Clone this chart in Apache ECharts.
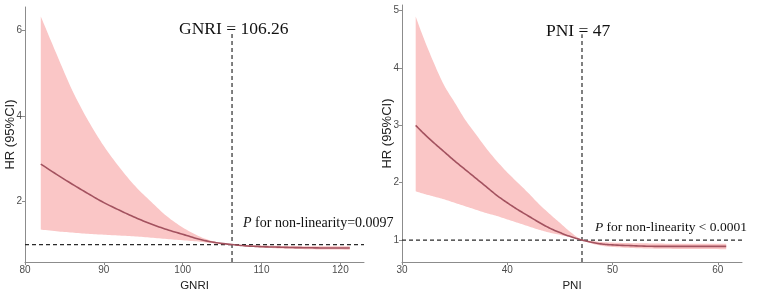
<!DOCTYPE html>
<html>
<head>
<meta charset="utf-8">
<script src="https://cdn.jsdelivr.net/npm/echarts@6/dist/echarts.min.js"></script>
<style>
  html, body { margin: 0; background: #fff; }
  #chart { width: 758px; height: 297px; }
</style>
</head>
<body>
<div id="chart"></div>
<script>
// GNRI panel
const gnriX     = [82, 84, 86, 88, 90, 92, 94, 96, 98, 100, 102, 104, 106.26, 108, 110, 112, 114, 116, 118, 121.2];
const gnriHR    = [2.88, 2.64, 2.41, 2.19, 1.98, 1.80, 1.63, 1.48, 1.35, 1.24, 1.13, 1.05, 1.0, 0.97, 0.95, 0.94, 0.93, 0.925, 0.92, 0.92];
const gnriUpper = [6.33, 5.45, 4.6, 3.9, 3.3, 2.8, 2.36, 2.0, 1.66, 1.40, 1.20, 1.07, 1.0, 0.99, 0.98, 0.97, 0.965, 0.96, 0.96, 0.96];
const gnriLower = [1.35, 1.31, 1.28, 1.25, 1.23, 1.21, 1.19, 1.16, 1.13, 1.10, 1.07, 1.03, 1.0, 0.955, 0.93, 0.91, 0.9, 0.89, 0.885, 0.88];
const gnriCut = 106.26;
const gnriTicks = [80, 90, 100, 110, 120];
const gnriYTicks = [2, 4, 6];

// PNI panel
const pniX     = [31.3, 32, 33, 34, 35, 36, 37, 38, 39, 40, 41, 42, 43, 44, 45, 46, 47.1, 48, 49, 50, 52, 54, 56, 58, 60.8];
const pniHR    = [3.0, 2.87, 2.7, 2.54, 2.38, 2.23, 2.08, 1.93, 1.78, 1.65, 1.53, 1.42, 1.31, 1.21, 1.13, 1.06, 1.0, 0.96, 0.93, 0.915, 0.9, 0.89, 0.89, 0.89, 0.89];
const pniUpper = [4.9, 4.55, 4.1, 3.7, 3.4, 3.1, 2.85, 2.6, 2.38, 2.18, 2.0, 1.82, 1.63, 1.46, 1.3, 1.14, 1.0, 0.985, 0.965, 0.955, 0.945, 0.94, 0.935, 0.935, 0.935];
const pniLower = [1.85, 1.81, 1.76, 1.71, 1.65, 1.59, 1.53, 1.47, 1.42, 1.36, 1.30, 1.24, 1.18, 1.13, 1.09, 1.05, 1.0, 0.94, 0.9, 0.88, 0.86, 0.85, 0.845, 0.845, 0.84];
const pniCut = 47.1;
const pniTicks = [30, 40, 50, 60];
const pniYTicks = [1, 2, 3, 4, 5];

const axisRange = {
  gnri: { xMin: 80, xMax: 123, yMin: 0.59, yMax: 6.55, cutTop: 5.92 },
  pni:  { xMin: 30, xMax: 62.3, yMin: 0.615, yMax: 5.1, cutTop: 4.59 }
};

const bandColor = '#fac6c6';
const lineColor = '#a3525f';
const tickColor = '#4d4d4d';

const pairs = (xs, ys) => xs.map((x, i) => [x, ys[i]]);

// catmull-rom through the pixel points so the curve reads smooth
function spline(pts, steps) {
  const out = [];
  for (let i = 0; i < pts.length - 1; i++) {
    const p0 = pts[Math.max(i - 1, 0)], p1 = pts[i], p2 = pts[i + 1], p3 = pts[Math.min(i + 2, pts.length - 1)];
    for (let s = 0; s < steps; s++) {
      const t = s / steps, t2 = t * t, t3 = t2 * t;
      out.push([0, 1].map(k => 0.5 * ((2 * p1[k]) + (-p0[k] + p2[k]) * t +
        (2 * p0[k] - 5 * p1[k] + 4 * p2[k] - p3[k]) * t2 + (-p0[k] + 3 * p1[k] - 3 * p2[k] + p3[k]) * t3)));
    }
  }
  out.push(pts[pts.length - 1]);
  return out;
}

const chart = echarts.init(document.getElementById('chart'));

function xAxisFor(idx, r, ticks, name) {
  return {
    type: 'value', gridIndex: idx, min: r.xMin, max: r.xMax, z: 3,
    name: name, nameLocation: 'middle', nameGap: 10,
    nameTextStyle: { fontFamily: 'Liberation Sans', fontSize: 11.5, color: '#222' },
    axisLine: { onZero: false, lineStyle: { color: '#8c8c8c', width: 1 } },
    axisTick: { show: true, length: 3, customValues: ticks, lineStyle: { color: '#8c8c8c' } },
    axisLabel: { customValues: ticks, margin: 3, fontFamily: 'Liberation Sans', fontSize: 10, color: tickColor },
    splitLine: { show: false }
  };
}

function yAxisFor(idx, r, ticks) {
  return {
    type: 'value', gridIndex: idx, min: r.yMin, max: r.yMax, z: 3,
    name: 'HR (95%CI)', nameLocation: 'middle', nameGap: 8, nameMoveOverlap: false,
    nameTextStyle: { fontFamily: 'Liberation Sans', fontSize: 13, color: '#222' },
    axisLine: { show: true, lineStyle: { color: '#8c8c8c', width: 1 } },
    axisTick: { show: true, length: 3, customValues: ticks, lineStyle: { color: '#8c8c8c' } },
    axisLabel: { customValues: ticks, margin: 3, fontFamily: 'Liberation Sans', fontSize: 10, color: tickColor },
    splitLine: { show: false }
  };
}

function panelSeries(idx, xs, hr, up, lo, cut, r) {
  const dash = { color: '#2a2a2a', width: 1.2, type: [4, 3] };
  return [
    {
      // confidence band: upper edge left->right, lower edge back
      type: 'custom', xAxisIndex: idx, yAxisIndex: idx, z: 1, silent: true,
      data: [[xs[0], up[0]]],
      renderItem: function (params, api) {
        const top = spline(xs.map((x, i) => api.coord([x, up[i]])), 8);
        const bot = spline(xs.map((x, i) => api.coord([x, lo[i]])), 8).reverse();
        return { type: 'polygon', shape: { points: top.concat(bot) }, style: { fill: bandColor } };
      }
    },
    {
      type: 'line', xAxisIndex: idx, yAxisIndex: idx, data: pairs([r.xMin, r.xMax], [1, 1]),
      showSymbol: false, z: 4, silent: true, lineStyle: dash
    },
    {
      type: 'line', xAxisIndex: idx, yAxisIndex: idx, data: pairs([cut, cut], [r.yMin, r.cutTop]),
      showSymbol: false, z: 4, silent: true, lineStyle: dash
    },
    {
      type: 'custom', xAxisIndex: idx, yAxisIndex: idx, z: 5, silent: true,
      data: [[xs[0], hr[0]]],
      renderItem: function (params, api) {
        const pts = spline(xs.map((x, i) => api.coord([x, hr[i]])), 8);
        return { type: 'polyline', shape: { points: pts }, style: { stroke: lineColor, lineWidth: 1.6, fill: null } };
      }
    }
  ];
}

const serif = 'Liberation Serif';
const option = {
  animation: false,
  backgroundColor: '#fff',
  grid: [
    { left: 25, top: 7, width: 339, height: 255.7 },
    { left: 402, top: 5, width: 340, height: 260 }
  ],
  xAxis: [
    xAxisFor(0, axisRange.gnri, gnriTicks, 'GNRI'),
    xAxisFor(1, axisRange.pni, pniTicks, 'PNI')
  ],
  yAxis: [
    yAxisFor(0, axisRange.gnri, gnriYTicks),
    yAxisFor(1, axisRange.pni, pniYTicks)
  ],
  title: [
    { text: 'GNRI = 106.26', left: 179, top: 20, padding: 0,
      textStyle: { fontFamily: serif, fontSize: 17.5, fontWeight: 'normal', color: '#111' } },
    { text: 'PNI = 47', left: 546, top: 22.5, padding: 0,
      textStyle: { fontFamily: serif, fontSize: 17.5, fontWeight: 'normal', color: '#111' } },
    { text: '{i|P} for non-linearity=0.0097', left: 243, top: 216, padding: 0,
      textStyle: { fontFamily: serif, fontSize: 14, fontWeight: 'normal', color: '#111',
        rich: { i: { fontFamily: serif, fontSize: 14, fontStyle: 'italic', color: '#111' } } } },
    { text: '{i|P} for non-linearity < 0.0001', left: 595, top: 220, padding: 0,
      textStyle: { fontFamily: serif, fontSize: 13.5, fontWeight: 'normal', color: '#111',
        rich: { i: { fontFamily: serif, fontSize: 13.5, fontStyle: 'italic', color: '#111' } } } }
  ],
  series: [
    ...panelSeries(0, gnriX, gnriHR, gnriUpper, gnriLower, gnriCut, axisRange.gnri),
    ...panelSeries(1, pniX, pniHR, pniUpper, pniLower, pniCut, axisRange.pni)
  ]
};

chart.setOption(option);
</script>
</body>
</html>
